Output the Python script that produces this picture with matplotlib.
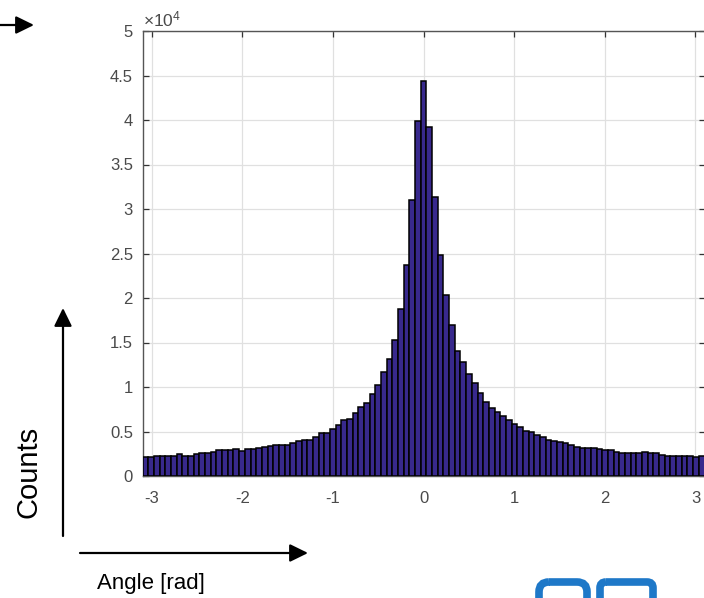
import numpy as np
import matplotlib
matplotlib.use("Agg")
import matplotlib.pyplot as plt
from matplotlib.patches import FancyBboxPatch

plt.rcParams['font.family'] = ['Liberation Sans', 'DejaVu Sans']
plt.rcParams['mathtext.fontset'] = 'custom'
plt.rcParams['mathtext.rm'] = 'Liberation Sans'
plt.rcParams['mathtext.it'] = 'Liberation Sans'

# ---- data -------------------------------------------------------------
angle_min, angle_max = -3.1, 3.1
counts_k = [
    2.17, 2.17, 2.28, 2.28, 2.28, 2.28, 2.47, 2.30, 2.28, 2.50,
    2.55, 2.62, 2.65, 2.92, 2.92, 2.92, 3.00, 2.85, 3.00, 3.05,
    3.10, 3.30, 3.40, 3.50, 3.50, 3.50, 3.70, 3.90, 4.00, 4.00,
    4.40, 4.80, 4.80, 5.24, 5.70, 6.30, 6.40, 7.10, 7.80, 8.20,
    9.20, 10.2, 11.65, 13.1, 15.3, 18.8, 23.7, 31.0, 39.9, 44.4,
    39.2, 31.4, 24.8, 20.3, 17.0, 14.0, 12.8, 11.5, 10.4, 9.3,
    8.35, 7.6, 7.2, 6.74, 6.29, 5.84, 5.54, 5.09, 4.9, 4.6,
    4.35, 4.04, 3.97, 3.86, 3.67, 3.48, 3.3, 3.2, 3.18, 3.15,
    3.03, 2.92, 2.92, 2.73, 2.62, 2.62, 2.62, 2.62, 2.65, 2.55,
    2.55, 2.4, 2.25, 2.25, 2.25, 2.25, 2.25, 2.17, 2.3,
]
counts = np.array(counts_k) * 1000.0
x_ticks = [-3, -2, -1, 0, 1, 2, 3]
x_tick_labels = ['-3', '-2', '-1', '0', '1', '2', '3']
y_ticks = [0, 5000, 10000, 15000, 20000, 25000, 30000, 35000, 40000, 45000, 50000]
y_tick_labels = ['0', '0.5', '1', '1.5', '2', '2.5', '3', '3.5', '4', '4.5', '5']

# ---- figure -----------------------------------------------------------
W, H = 704, 598
fig = plt.figure(figsize=(W / 100, H / 100), dpi=100)

ax_l, ax_r, ax_t, ax_b = 142.7, 704.5, 31, 476
ax = fig.add_axes([ax_l / W, 1 - ax_b / H, (ax_r - ax_l) / W, (ax_b - ax_t) / H])

edges = np.linspace(angle_min, angle_max, len(counts) + 1)
ax.bar(edges[:-1], counts, width=np.diff(edges), align='edge',
       color='#38298d', edgecolor='black', linewidth=1.1, zorder=3)

ax.set_xlim(angle_min, angle_max)
ax.set_ylim(0, 50000)
ax.set_xticks(x_ticks)
ax.set_xticklabels(x_tick_labels)
ax.set_yticks(y_ticks)
ax.set_yticklabels(y_tick_labels)
ax.grid(True, color='#e0e0e0', linewidth=0.9, zorder=0)
ax.set_axisbelow(True)
ax.tick_params(direction='in', length=4.5, width=0.9, color='#333333',
               labelcolor='#4a4a4a', labelsize=12, top=True, right=True)
ax.tick_params(axis='x', pad=11)
ax.tick_params(axis='y', pad=7)
for s in ax.spines.values():
    s.set_color('#555555')
    s.set_linewidth(1.0)

ax.text(0.0, 1.004, r'$\times10^{4}$', transform=ax.transAxes, ha='left',
        va='bottom', fontsize=12.5, color='#4a4a4a')

# ---- overlay annotations (pixel coordinates) ---------------------------
ov = fig.add_axes([0, 0, 1, 1], facecolor='none')
ov.set_xlim(0, W)
ov.set_ylim(H, 0)
ov.axis('off')

arrow_kw = dict(arrowstyle='-|>,head_length=0.55,head_width=0.27',
                mutation_scale=20, lw=1.6, color='black',
                shrinkA=0, shrinkB=0)
ov.annotate('', xy=(34, 25), xytext=(-5, 25), arrowprops=arrow_kw)
ov.annotate('', xy=(63, 308), xytext=(63, 536), arrowprops=arrow_kw)
ov.annotate('', xy=(308, 553), xytext=(80, 553), arrowprops=arrow_kw)

ov.text(28, 472, 'Counts', rotation=90, ha='center', va='center',
        fontsize=21, color='black')
ov.text(97, 584, 'Angle [rad]', ha='left', va='center',
        fontsize=16, color='black')

# partial logo at the bottom right
logo_c = '#1e78c8'
ov.add_patch(FancyBboxPatch((539, 582), 48, 40,
                            boxstyle='round,pad=0,rounding_size=10',
                            fill=False, ec=logo_c, lw=5.5, clip_on=True))
ov.add_patch(FancyBboxPatch((600, 582), 53, 40,
                            boxstyle='round,pad=0,rounding_size=6',
                            fill=False, ec=logo_c, lw=5.5, clip_on=True))

fig.savefig('out.png', dpi=100)
